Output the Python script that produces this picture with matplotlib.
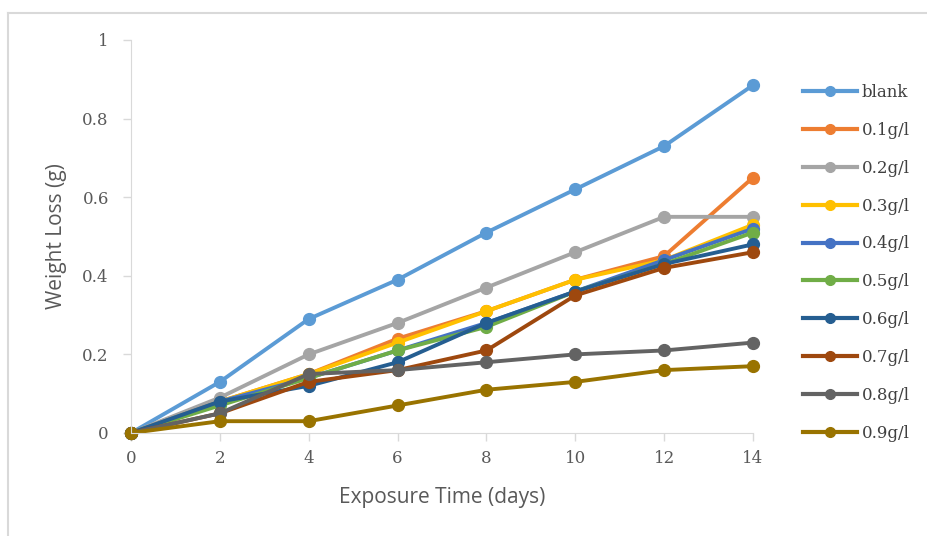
import matplotlib
matplotlib.use('Agg')
import matplotlib.pyplot as plt
from matplotlib.lines import Line2D

days = [0, 2, 4, 6, 8, 10, 12, 14]
labels = ['blank', '0.1g/l', '0.2g/l', '0.3g/l', '0.4g/l',
          '0.5g/l', '0.6g/l', '0.7g/l', '0.8g/l', '0.9g/l']
blank = [0, 0.13, 0.29, 0.39, 0.51, 0.62, 0.73, 0.885]
c01 = [0, 0.08, 0.15, 0.24, 0.31, 0.39, 0.45, 0.65]
c02 = [0, 0.09, 0.20, 0.28, 0.37, 0.46, 0.55, 0.55]
c03 = [0, 0.08, 0.15, 0.23, 0.31, 0.39, 0.44, 0.53]
c04 = [0, 0.08, 0.14, 0.21, 0.28, 0.36, 0.44, 0.52]
c05 = [0, 0.07, 0.14, 0.21, 0.27, 0.36, 0.43, 0.51]
c06 = [0, 0.08, 0.12, 0.18, 0.28, 0.36, 0.43, 0.48]
c07 = [0, 0.05, 0.13, 0.16, 0.21, 0.35, 0.42, 0.46]
c08 = [0, 0.05, 0.15, 0.16, 0.18, 0.20, 0.21, 0.23]
c09 = [0, 0.03, 0.03, 0.07, 0.11, 0.13, 0.16, 0.17]
series = [blank, c01, c02, c03, c04, c05, c06, c07, c08, c09]
colors = ['#5b9bd5', '#ed7d31', '#a5a5a5', '#ffc000', '#4472c4',
          '#70ad47', '#255e91', '#9e480e', '#636363', '#997300']

fig = plt.figure(figsize=(9.27, 5.36), dpi=100)
ax = fig.add_axes([0.1413, 0.1922, 0.6710, 0.7332])

for vals, lab, col in zip(series, labels, colors):
    ax.plot(days, vals, color=col, lw=2.8, marker='o', ms=8.5, label=lab,
            clip_on=False)

ax.set_xlim(0, 14)
ax.set_ylim(0, 1)
ax.set_xticks(days)
ax.set_yticks([0, 0.2, 0.4, 0.6, 0.8, 1])
ax.set_yticklabels(['0', '0.2', '0.4', '0.6', '0.8', '1'])
for s in ['top', 'right']:
    ax.spines[s].set_visible(False)
for s in ['left', 'bottom']:
    ax.spines[s].set_color('#d9d9d9')
ax.tick_params(colors='#d9d9d9', labelcolor='#595959', length=6, width=1,
               labelsize=12)
for t in ax.get_xticklabels() + ax.get_yticklabels():
    t.set_family('DejaVu Serif')
ax.tick_params(axis='x', pad=6)
ax.tick_params(axis='y', pad=10)

ax.set_xlabel('Exposure Time (days)', fontsize=15, color='#595959',
              family='Open Sans')
ax.set_ylabel('Weight Loss (g)', fontsize=15, color='#595959',
              family='Open Sans')
ax.xaxis.set_label_coords(0.5, -0.137)
ax.yaxis.set_label_coords(-0.103, 0.5)

handles = [Line2D([], [], color=c, lw=3, marker='o', ms=7) for c in colors]
leg = fig.legend(handles, labels, loc='upper left',
                 bbox_to_anchor=(0.8662, 0.843), frameon=False,
                 borderaxespad=0, borderpad=0,
                 handlelength=3.24, handletextpad=0.3, labelspacing=1.25,
                 prop={'family': 'DejaVu Serif', 'size': 12})
for t in leg.get_texts():
    t.set_color('#404040')

# outer chart border
fig.add_artist(Line2D([0.0086, 0.0086], [0, 0.9757], color='#d9d9d9', lw=1.5))
fig.add_artist(Line2D([0.0086, 1], [0.9757, 0.9757], color='#d9d9d9', lw=1.5))

fig.savefig('out.png', dpi=100)
